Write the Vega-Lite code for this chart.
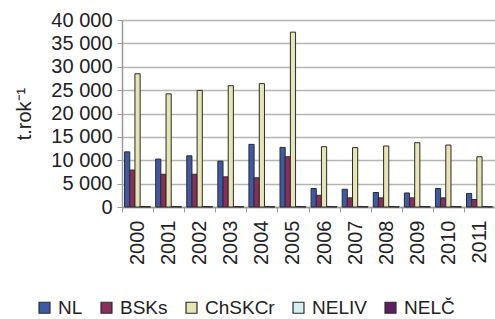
{
  "$schema": "https://vega.github.io/schema/vega-lite/v6.json",
  "width": 373,
  "height": 187,
  "autosize": {"type": "none"},
  "padding": {"left": 122, "top": 20, "right": 0, "bottom": 112},
  "background": "white",
  "config": {
    "view": {"stroke": null},
    "font": "Liberation Sans",
    "axis": {"labelFont": "Liberation Sans", "titleFont": "Liberation Sans", "labelColor": "#222", "titleColor": "#222"},
    "legend": {"labelFont": "Liberation Sans"}
  },
  "data": {
    "values": [
      {"year": "2000", "s": "NL", "v": 11800},
      {"year": "2000", "s": "BSKs", "v": 7900},
      {"year": "2000", "s": "ChSKCr", "v": 28500},
      {"year": "2000", "s": "NELIV", "v": 120},
      {"year": "2000", "s": "NELČ", "v": 60},
      {"year": "2001", "s": "NL", "v": 10250},
      {"year": "2001", "s": "BSKs", "v": 7000},
      {"year": "2001", "s": "ChSKCr", "v": 24200},
      {"year": "2001", "s": "NELIV", "v": 120},
      {"year": "2001", "s": "NELČ", "v": 60},
      {"year": "2002", "s": "NL", "v": 10950},
      {"year": "2002", "s": "BSKs", "v": 7000},
      {"year": "2002", "s": "ChSKCr", "v": 24950},
      {"year": "2002", "s": "NELIV", "v": 120},
      {"year": "2002", "s": "NELČ", "v": 60},
      {"year": "2003", "s": "NL", "v": 9800},
      {"year": "2003", "s": "BSKs", "v": 6450},
      {"year": "2003", "s": "ChSKCr", "v": 25950},
      {"year": "2003", "s": "NELIV", "v": 120},
      {"year": "2003", "s": "NELČ", "v": 60},
      {"year": "2004", "s": "NL", "v": 13400},
      {"year": "2004", "s": "BSKs", "v": 6250},
      {"year": "2004", "s": "ChSKCr", "v": 26400},
      {"year": "2004", "s": "NELIV", "v": 120},
      {"year": "2004", "s": "NELČ", "v": 60},
      {"year": "2005", "s": "NL", "v": 12750},
      {"year": "2005", "s": "BSKs", "v": 10750},
      {"year": "2005", "s": "ChSKCr", "v": 37400},
      {"year": "2005", "s": "NELIV", "v": 120},
      {"year": "2005", "s": "NELČ", "v": 60},
      {"year": "2006", "s": "NL", "v": 3950},
      {"year": "2006", "s": "BSKs", "v": 2500},
      {"year": "2006", "s": "ChSKCr", "v": 12900},
      {"year": "2006", "s": "NELIV", "v": 120},
      {"year": "2006", "s": "NELČ", "v": 60},
      {"year": "2007", "s": "NL", "v": 3800},
      {"year": "2007", "s": "BSKs", "v": 1950},
      {"year": "2007", "s": "ChSKCr", "v": 12700},
      {"year": "2007", "s": "NELIV", "v": 120},
      {"year": "2007", "s": "NELČ", "v": 60},
      {"year": "2008", "s": "NL", "v": 3100},
      {"year": "2008", "s": "BSKs", "v": 1950},
      {"year": "2008", "s": "ChSKCr", "v": 13050},
      {"year": "2008", "s": "NELIV", "v": 120},
      {"year": "2008", "s": "NELČ", "v": 60},
      {"year": "2009", "s": "NL", "v": 3000},
      {"year": "2009", "s": "BSKs", "v": 1950},
      {"year": "2009", "s": "ChSKCr", "v": 13750},
      {"year": "2009", "s": "NELIV", "v": 120},
      {"year": "2009", "s": "NELČ", "v": 60},
      {"year": "2010", "s": "NL", "v": 3950},
      {"year": "2010", "s": "BSKs", "v": 1950},
      {"year": "2010", "s": "ChSKCr", "v": 13250},
      {"year": "2010", "s": "NELIV", "v": 120},
      {"year": "2010", "s": "NELČ", "v": 60},
      {"year": "2011", "s": "NL", "v": 2900},
      {"year": "2011", "s": "BSKs", "v": 1600},
      {"year": "2011", "s": "ChSKCr", "v": 10750},
      {"year": "2011", "s": "NELIV", "v": 120},
      {"year": "2011", "s": "NELČ", "v": 60}
    ]
  },
  "mark": {"type": "bar", "stroke": "#2a2a2a", "strokeWidth": 1},
  "encoding": {
    "x": {
      "field": "year", "type": "nominal",
      "scale": {"paddingInner": 0, "paddingOuter": 0},
      "axis": {
        "title": null, "labelAngle": -90, "labelFontSize": 20, "labelAlign": "right", "labelBaseline": "middle",
        "labelPadding": 8, "tickBand": "extent", "tickSize": 5, "tickColor": "#999", "domainColor": "#999", "domainWidth": 1.5, "grid": false
      }
    },
    "xOffset": {"field": "s", "type": "nominal", "sort": ["NL", "BSKs", "ChSKCr", "NELIV", "NELČ"], "scale": {"paddingInner": 0, "paddingOuter": 0.5}},
    "y": {
      "field": "v", "type": "quantitative",
      "scale": {"domain": [0, 40000], "nice": false},
      "axis": {
        "title": "t.rok⁻¹", "titleFontSize": 20, "titleFontWeight": "normal", "titlePadding": 16,
        "values": [0, 5000, 10000, 15000, 20000, 25000, 30000, 35000, 40000],
        "labelExpr": "replace(format(datum.value, ','), ',', ' ')",
        "labelFontSize": 20, "labelPadding": 5, "tickSize": 5, "tickColor": "#999",
        "domainColor": "#999", "domainWidth": 1.5, "gridColor": "#b5b5b5", "gridWidth": 1.5
      }
    },
    "color": {
      "field": "s", "type": "nominal",
      "sort": ["NL", "BSKs", "ChSKCr", "NELIV", "NELČ"],
      "scale": {"domain": ["NL", "BSKs", "ChSKCr", "NELIV", "NELČ"], "range": ["#3d5aa8", "#8c2e5c", "#e6e6b4", "#d4f0f0", "#5e1f5e"]},
      "legend": {
        "title": null, "orient": "none", "direction": "horizontal", "legendX": -87, "legendY": 278,
        "symbolType": "square", "symbolSize": 120, "symbolStrokeColor": "#2a2a2a", "symbolStrokeWidth": 1.2,
        "labelFontSize": 19, "labelColor": "#222", "columnPadding": 14, "labelOffset": 4
      }
    }
  }
}
